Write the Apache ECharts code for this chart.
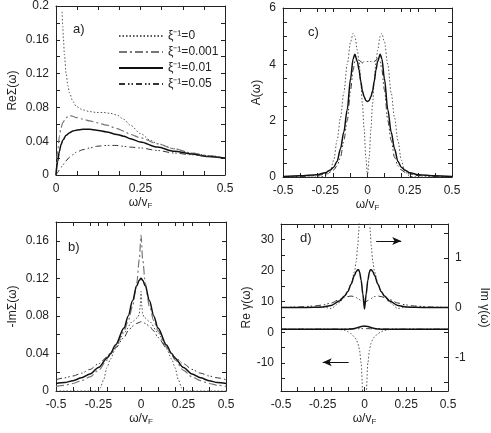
<!DOCTYPE html>
<html>
<head>
<meta charset="utf-8">
<script src="https://cdn.jsdelivr.net/npm/echarts@6/dist/echarts.min.js"></script>
<style>
html, body { margin: 0; padding: 0; background: #fff; }
#chart { width: 491px; height: 433px; }
</style>
</head>
<body>
<div id="chart"></div>
<script>
// a) Re Sigma(w), w >= 0
var aX0 = [0.018, 0.02, 0.022, 0.025, 0.03, 0.035, 0.04, 0.05, 0.06, 0.08, 0.1, 0.12, 0.14, 0.16, 0.18, 0.2, 0.22, 0.25, 0.28, 0.3, 0.35, 0.4, 0.45, 0.5];
var aRe0 = [0.193, 0.176, 0.161, 0.142, 0.12, 0.106, 0.097, 0.087, 0.081, 0.077, 0.075, 0.074, 0.074, 0.073, 0.071, 0.066, 0.059, 0.049, 0.041, 0.037, 0.031, 0.026, 0.023, 0.02];
var aX = [0, 0.005, 0.01, 0.015, 0.02, 0.03, 0.04, 0.05, 0.06, 0.08, 0.1, 0.12, 0.15, 0.18, 0.2, 0.22, 0.25, 0.3, 0.35, 0.4, 0.45, 0.5];
var aRe001 = [0, 0.028, 0.046, 0.056, 0.062, 0.068, 0.0705, 0.0695, 0.068, 0.066, 0.064, 0.062, 0.059, 0.055, 0.052, 0.048, 0.044, 0.037, 0.031, 0.026, 0.023, 0.02];
var aRe01 = [0, 0.016, 0.028, 0.036, 0.041, 0.047, 0.05, 0.052, 0.053, 0.054, 0.054, 0.053, 0.051, 0.048, 0.046, 0.043, 0.039, 0.033, 0.028, 0.025, 0.022, 0.02];
var aRe05 = [0, 0.003, 0.006, 0.009, 0.012, 0.017, 0.021, 0.024, 0.027, 0.03, 0.032, 0.034, 0.035, 0.035, 0.034, 0.033, 0.032, 0.029, 0.026, 0.024, 0.022, 0.02];

// b) -Im Sigma(w)
var bX0 = [-0.5, -0.3, -0.25, -0.24, -0.22, -0.2, -0.18, -0.15, -0.1, -0.05, -0.02, -0.01, -0.005, 0, 0.005, 0.01, 0.02, 0.05, 0.1, 0.15, 0.18, 0.2, 0.22, 0.24, 0.25, 0.3, 0.5];
var bIm0 = [0, 0, 0, 0.003, 0.012, 0.025, 0.034, 0.045, 0.062, 0.074, 0.078, 0.082, 0.09, 0.106, 0.09, 0.082, 0.078, 0.074, 0.062, 0.045, 0.034, 0.025, 0.012, 0.003, 0, 0, 0];
var bX = [-0.5, -0.45, -0.4, -0.35, -0.3, -0.25, -0.2, -0.18, -0.15, -0.1, -0.075, -0.05, -0.025, -0.01, 0, 0.01, 0.025, 0.05, 0.075, 0.1, 0.15, 0.18, 0.2, 0.25, 0.3, 0.35, 0.4, 0.45, 0.5];
var bIm001 = [0.005, 0.006, 0.008, 0.011, 0.015, 0.022, 0.033, 0.039, 0.047, 0.064, 0.075, 0.09, 0.115, 0.14, 0.166, 0.14, 0.115, 0.09, 0.075, 0.064, 0.047, 0.039, 0.033, 0.022, 0.015, 0.011, 0.008, 0.006, 0.005];
var bIm01 = [0.008, 0.009, 0.011, 0.014, 0.018, 0.025, 0.035, 0.04, 0.049, 0.067, 0.08, 0.096, 0.112, 0.118, 0.12, 0.118, 0.112, 0.096, 0.08, 0.067, 0.049, 0.04, 0.035, 0.025, 0.018, 0.014, 0.011, 0.009, 0.008];
var bIm05 = [0.012, 0.014, 0.016, 0.019, 0.023, 0.029, 0.036, 0.04, 0.046, 0.057, 0.064, 0.069, 0.072, 0.073, 0.074, 0.073, 0.072, 0.069, 0.064, 0.057, 0.046, 0.04, 0.036, 0.029, 0.023, 0.019, 0.016, 0.014, 0.012];

// c) A(w)
var cX = [-0.5, -0.4, -0.3, -0.25, -0.22, -0.2, -0.18, -0.16, -0.14, -0.12, -0.1, -0.085, -0.075, -0.06, -0.05, -0.04, -0.03, -0.02, -0.01, 0, 0.01, 0.02, 0.03, 0.04, 0.05, 0.06, 0.075, 0.085, 0.1, 0.12, 0.14, 0.16, 0.18, 0.2, 0.22, 0.25, 0.3, 0.4, 0.5];
var cA0 = [0, 0, 0, 0.02, 0.2, 0.6, 1.3, 2.1, 3.0, 4.0, 4.8, 5.1, 5.0, 4.5, 4.1, 3.4, 2.6, 1.7, 0.7, 0.05, 0.7, 1.7, 2.6, 3.4, 4.1, 4.5, 5.0, 5.1, 4.8, 4.0, 3.0, 2.1, 1.3, 0.6, 0.2, 0.02, 0, 0, 0];
var cA01 = [0.02, 0.04, 0.08, 0.15, 0.25, 0.35, 0.55, 1.0, 1.6, 2.4, 3.5, 4.2, 4.36, 4.1, 3.8, 3.4, 3.05, 2.85, 2.72, 2.68, 2.72, 2.85, 3.05, 3.4, 3.8, 4.1, 4.36, 4.2, 3.5, 2.4, 1.6, 1.0, 0.55, 0.35, 0.25, 0.15, 0.08, 0.04, 0.02];
var cA05 = [0.01, 0.02, 0.05, 0.1, 0.17, 0.25, 0.4, 0.7, 1.3, 2.0, 3.1, 3.8, 4.1, 4.2, 4.15, 4.1, 4.05, 4.1, 4.1, 4.1, 4.1, 4.1, 4.05, 4.1, 4.15, 4.2, 4.1, 3.8, 3.1, 2.0, 1.3, 0.7, 0.4, 0.25, 0.17, 0.1, 0.05, 0.02, 0.01];

// d) Re gamma (left axis), Im gamma (right axis)
var dX = [-0.5, -0.4, -0.3, -0.25, -0.2, -0.15, -0.12, -0.1, -0.08, -0.06, -0.05, -0.04, -0.035, -0.03, -0.02, -0.01, 0, 0.01, 0.02, 0.03, 0.035, 0.04, 0.05, 0.06, 0.08, 0.1, 0.12, 0.15, 0.2, 0.25, 0.3, 0.4, 0.5];
var dIm0 = [0, 0, 0, 0.01, -0.02, 0.1, 0.22, 0.32, 0.48, 0.72, 0.92, 1.25, 1.5, 1.8, 2.5, 3.5, 4.0, 3.5, 2.5, 1.8, 1.5, 1.25, 0.92, 0.72, 0.48, 0.32, 0.22, 0.1, -0.02, 0.01, 0, 0, 0];
var dIm01 = [0, 0, 0.005, 0.01, 0.04, 0.13, 0.23, 0.32, 0.47, 0.65, 0.72, 0.76, 0.76, 0.72, 0.55, 0.27, -0.03, 0.27, 0.55, 0.72, 0.76, 0.76, 0.72, 0.65, 0.47, 0.32, 0.23, 0.13, 0.04, 0.01, 0.005, 0, 0];
var dIm05 = [0, 0.01, 0.03, 0.05, 0.09, 0.16, 0.2, 0.22, 0.23, 0.22, 0.2, 0.18, 0.17, 0.16, 0.14, 0.12, 0.11, 0.12, 0.14, 0.16, 0.17, 0.18, 0.2, 0.22, 0.23, 0.22, 0.2, 0.16, 0.09, 0.05, 0.03, 0.01, 0];
var dRe0 = [1, 1, 1, 1, 1, 0.9, 0.6, 0.2, -0.5, -1.5, -2.3, -3.5, -4.5, -5.8, -10, -20, -40, -20, -10, -5.8, -4.5, -3.5, -2.3, -1.5, -0.5, 0.2, 0.6, 0.9, 1, 1, 1, 1, 1];
var dRe01 = [1, 1, 1, 1, 1, 1, 1, 1, 1.05, 1.2, 1.35, 1.5, 1.6, 1.7, 1.85, 1.95, 2.0, 1.95, 1.85, 1.7, 1.6, 1.5, 1.35, 1.2, 1.05, 1, 1, 1, 1, 1, 1, 1, 1];
var dRe05 = [1, 1, 1, 1, 1, 1.02, 1.04, 1.06, 1.08, 1.1, 1.12, 1.13, 1.14, 1.15, 1.16, 1.17, 1.17, 1.17, 1.16, 1.15, 1.14, 1.13, 1.12, 1.1, 1.08, 1.06, 1.04, 1.02, 1, 1, 1, 1, 1];
// arrows telling which axis a curve set belongs to (left-axis coords)
var dArrows = [[[0.07, 29.5], [0.22, 29.5]], [[-0.095, -9.7], [-0.25, -9.7]]];

// ticks and labels
var aXTicks = [0, 0.0625, 0.125, 0.1875, 0.25, 0.3125, 0.375, 0.4375, 0.5];
var aXLabels = [0, 0.25, 0.5];
var aYTicks = [0, 0.02, 0.04, 0.06, 0.08, 0.1, 0.12, 0.14, 0.16, 0.18, 0.2];
var aYLabels = [0, 0.04, 0.08, 0.12, 0.16, 0.2];
var wTicks = [-0.5, -0.4, -0.3, -0.25, -0.2, -0.1, 0, 0.1, 0.2, 0.25, 0.3, 0.4, 0.5];
var wLabels = [-0.5, -0.25, 0, 0.25, 0.5];
var bYTicks = [0, 0.02, 0.04, 0.06, 0.08, 0.1, 0.12, 0.14, 0.16, 0.18];
var bYLabels = [0, 0.04, 0.08, 0.12, 0.16];
var cYTicks = [0, 0.5, 1, 1.5, 2, 2.5, 3, 3.5, 4, 4.5, 5, 5.5, 6];
var cYLabels = [0, 2, 4, 6];
var dYTicks = [-15, -10, -5, 0, 5, 10, 15, 20, 25, 30, 35];
var dYLabels = [-10, 0, 10, 20, 30];
var dY2Ticks = [-1.5, -1, -0.5, 0, 0.5, 1, 1.5];
var dY2Labels = [-1, 0, 1];

var names = ['ξ⁻¹=0', 'ξ⁻¹=0.001', 'ξ⁻¹=0.01', 'ξ⁻¹=0.05'];

var FONT = 'Liberation Sans, Arial, sans-serif';
var INK = '#222';

var S0 = { color: '#555', width: 1, type: [1.5, 2] };
var S001 = { color: '#777', width: 1.2, type: [8, 3, 2, 3] };
var S01 = { color: '#111', width: 1.5, type: 'solid' };
var S05 = { color: '#333', width: 1, type: [6, 3, 1.5, 2, 1.5, 3] };

var chart = echarts.init(document.getElementById('chart'));

function xAxis(grid, min, max, ticks, labels, pos, name) {
  return {
    type: 'value', gridIndex: grid, min: min, max: max, position: pos,
    name: name || '', nameLocation: 'middle', nameGap: 17,
    nameTextStyle: {
      fontFamily: FONT, color: INK,
      rich: {
        a: { fontFamily: FONT, fontSize: 12, color: INK, lineHeight: 14 },
        s: { fontFamily: FONT, fontSize: 8, color: INK, lineHeight: 14, verticalAlign: 'bottom', padding: [6, 0, 0, 0] }
      }
    },
    splitLine: { show: false },
    axisLine: { show: true, onZero: false, lineStyle: { color: INK, width: 1 } },
    axisTick: { show: true, inside: true, length: 4, customValues: ticks, lineStyle: { color: INK } },
    axisLabel: labels ? { show: true, customValues: labels, margin: 8, fontFamily: FONT, fontSize: 12, color: INK } : { show: false }
  };
}

function yAxis(grid, min, max, ticks, labels, pos, name, gap, rot) {
  return {
    type: 'value', gridIndex: grid, min: min, max: max, position: pos,
    name: name || '', nameLocation: 'middle', nameGap: gap || 36, nameRotate: rot == null ? 90 : rot,
    nameTextStyle: { fontFamily: FONT, fontSize: 12, color: INK },
    splitLine: { show: false },
    axisLine: { show: true, onZero: false, lineStyle: { color: INK, width: 1 } },
    axisTick: { show: true, inside: true, length: 4, customValues: ticks, lineStyle: { color: INK } },
    axisLabel: labels ? { show: true, customValues: labels, margin: 7, fontFamily: FONT, fontSize: 12, color: INK } : { show: false }
  };
}

function pairs(xs, ys) {
  return xs.map(function (x, i) { return [x, ys[i]]; });
}

function line(name, xs, ys, xi, yi, st) {
  return {
    name: name, type: 'line', xAxisIndex: xi, yAxisIndex: yi,
    data: pairs(xs, ys), symbol: 'none', showSymbol: false,
    smooth: 0.3, smoothMonotone: 'x', clip: true, silent: true,
    color: st.color, lineStyle: st
  };
}

var wName = '{a|ω/v}{s|F}';

var option = {
  animation: false,
  backgroundColor: '#fff',
  grid: [
    { left: 56, top: 6, width: 169, height: 169 },
    { left: 56, top: 222, width: 170, height: 169 },
    { left: 283, top: 8, width: 169, height: 169 },
    { left: 281, top: 224, width: 168, height: 167 }
  ],
  xAxis: [
    xAxis(0, 0, 0.5, aXTicks, aXLabels, 'bottom', wName),
    xAxis(0, 0, 0.5, aXTicks, null, 'top'),
    xAxis(1, -0.5, 0.5, wTicks, wLabels, 'bottom', wName),
    xAxis(1, -0.5, 0.5, wTicks, null, 'top'),
    xAxis(2, -0.5, 0.5, wTicks, wLabels, 'bottom', wName),
    xAxis(2, -0.5, 0.5, wTicks, null, 'top'),
    xAxis(3, -0.5, 0.5, wTicks, wLabels, 'bottom', wName),
    xAxis(3, -0.5, 0.5, wTicks, null, 'top')
  ],
  yAxis: [
    yAxis(0, 0, 0.2, aYTicks, aYLabels, 'left', 'ReΣ(ω)', 37),
    yAxis(0, 0, 0.2, aYTicks, null, 'right'),
    yAxis(1, 0, 0.18, bYTicks, bYLabels, 'left', '-ImΣ(ω)', 37),
    yAxis(1, 0, 0.18, bYTicks, null, 'right'),
    yAxis(2, 0, 6, cYTicks, cYLabels, 'left', 'A(ω)', 20),
    yAxis(2, 0, 6, cYTicks, null, 'right'),
    yAxis(3, -19, 35, dYTicks, dYLabels, 'left', 'Re γ(ω)', 26),
    yAxis(3, -1.68, 1.68, dY2Ticks, dY2Labels, 'right', 'Im γ(ω)', 30, -90)
  ],
  legend: {
    orient: 'vertical', left: 113, top: 25,
    itemWidth: 44, itemHeight: 8, itemGap: 4,
    selectedMode: false,
    data: names,
    itemStyle: { opacity: 0 },
    textStyle: { fontFamily: FONT, fontSize: 12, color: INK }
  },
  graphic: [
    { type: 'text', left: 73, top: 23, style: { text: 'a)', fontFamily: FONT, fontSize: 13, fill: INK } },
    { type: 'text', left: 68, top: 241, style: { text: 'b)', fontFamily: FONT, fontSize: 13, fill: INK } },
    { type: 'text', left: 308, top: 26, style: { text: 'c)', fontFamily: FONT, fontSize: 13, fill: INK } },
    { type: 'text', left: 300, top: 232, style: { text: 'd)', fontFamily: FONT, fontSize: 13, fill: INK } }
  ],
  series: [
    line(names[0], aX0, aRe0, 0, 0, S0),
    line(names[1], aX, aRe001, 0, 0, S001),
    line(names[2], aX, aRe01, 0, 0, S01),
    line(names[3], aX, aRe05, 0, 0, S05),

    line(names[0], bX0, bIm0, 2, 2, S0),
    line(names[1], bX, bIm001, 2, 2, S001),
    line(names[2], bX, bIm01, 2, 2, S01),
    line(names[3], bX, bIm05, 2, 2, S05),

    line(names[0], cX, cA0, 4, 4, S0),
    line(names[3], cX, cA05, 4, 4, S05),
    line(names[2], cX, cA01, 4, 4, S01),

    line(names[0], dX, dIm0, 6, 7, S0),
    line(names[3], dX, dIm05, 6, 7, S05),
    line(names[2], dX, dIm01, 6, 7, S01),
    line(names[0], dX, dRe0, 6, 6, S0),
    line(names[3], dX, dRe05, 6, 6, S05),
    Object.assign(line(names[2], dX, dRe01, 6, 6, S01), {
      markLine: {
        silent: true, symbol: ['none', 'arrow'], symbolSize: [6, 9],
        label: { show: false },
        lineStyle: { color: '#111', width: 1, type: 'solid' },
        data: dArrows.map(function (ar) { return [{ coord: ar[0] }, { coord: ar[1] }]; })
      }
    })
  ]
};

chart.setOption(option);
</script>
</body>
</html>
